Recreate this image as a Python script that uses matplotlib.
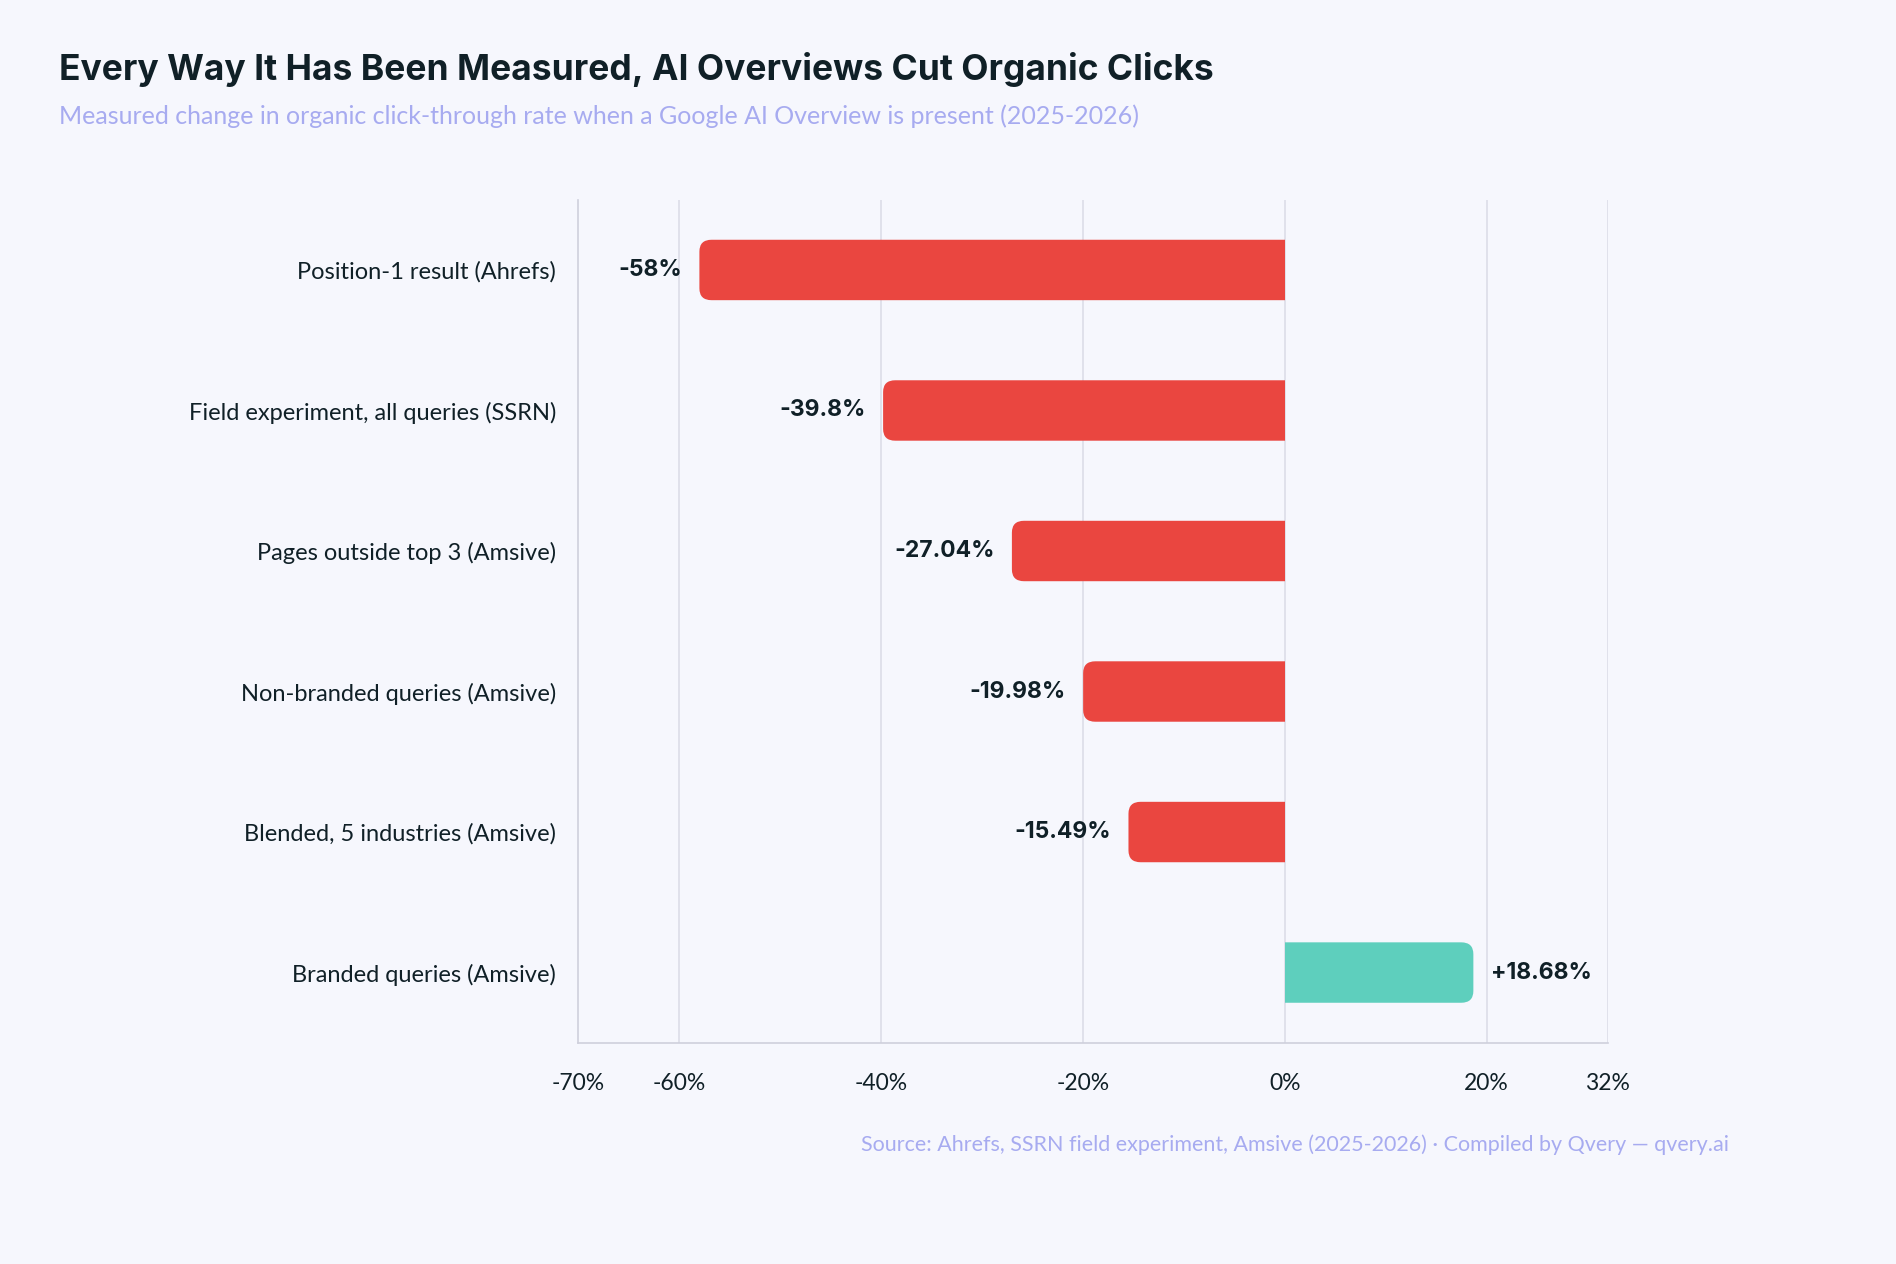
import matplotlib.pyplot as plt
from matplotlib.patches import FancyBboxPatch, Rectangle

categories = ["Position-1 result (Ahrefs)", "Field experiment, all queries (SSRN)",
              "Pages outside top 3 (Amsive)", "Non-branded queries (Amsive)",
              "Blended, 5 industries (Amsive)", "Branded queries (Amsive)"]
values = [-58, -39.8, -27.04, -19.98, -15.49, 18.68]
value_labels = ["-58%", "-39.8%", "-27.04%", "-19.98%", "-15.49%", "+18.68%"]
ticks = [-70, -60, -40, -20, 0, 20, 32]
tick_labels = ["-70%", "-60%", "-40%", "-20%", "0%", "20%", "32%"]

bg = "#f6f7fd"
red = "#ea4640"
teal = "#5ecfbd"

fig = plt.figure(figsize=(18.96, 12.64), dpi=100, facecolor=bg)
ax = fig.add_axes([0.305, 0.175, 0.543, 0.667], facecolor=bg)

h = 0.43
ext = 4  # rounded box runs past zero, then clipped so only the far end is rounded
for i, (v, lab) in enumerate(zip(values, value_labels)):
    y = 5 - i
    c = red if v < 0 else teal
    if v < 0:
        box = FancyBboxPatch((v, y - h / 2), -v + ext, h,
                             boxstyle="round,pad=0,rounding_size=1.2",
                             mutation_aspect=0.07, fc=c, ec="none", lw=0, zorder=3)
        clip = Rectangle((v - 1, y - 1), -v + 1, 2, transform=ax.transData)
    else:
        box = FancyBboxPatch((-ext, y - h / 2), v + ext, h,
                             boxstyle="round,pad=0,rounding_size=1.2",
                             mutation_aspect=0.07, fc=c, ec="none", lw=0, zorder=3)
        clip = Rectangle((0, y - 1), v + 1, 2, transform=ax.transData)
    ax.add_patch(box)
    box.set_clip_path(clip)
    if v < 0:
        ax.text(v - 1.7, y, lab, ha="right", va="center", fontsize=16.5,
                fontweight="bold", family="Inter", color="#102027")
    else:
        ax.text(v + 1.7, y, lab, ha="left", va="center", fontsize=16.5,
                fontweight="bold", family="Inter", color="#102027")

ax.set_xlim(-70, 32)
ax.set_ylim(-0.5, 5.5)
ax.set_xticks(ticks)
ax.set_xticklabels(tick_labels, family="Lato", fontsize=16.5, color="#102027")
ax.set_yticks(range(5, -1, -1))
ax.set_yticklabels(categories, family="Lato", fontsize=17, color="#102027")
ax.tick_params(axis="y", length=0, pad=16)
ax.tick_params(axis="x", length=0, pad=22)
for t in [-60, -40, -20, 0, 20, 32]:
    ax.axvline(t, color="#dcdde8", lw=1.2, zorder=1)
for s in ["top", "right"]:
    ax.spines[s].set_visible(False)
for s in ["left", "bottom"]:
    ax.spines[s].set_color("#cfd0dc")
    ax.spines[s].set_linewidth(1.2)

fig.text(0.031, 0.945, "Every Way It Has Been Measured, AI Overviews Cut Organic Clicks",
         family="Inter", fontweight="bold", fontsize=25.5, color="#102027", va="center")
fig.text(0.031, 0.908, "Measured change in organic click-through rate when a Google AI Overview is present (2025-2026)",
         family="Lato", fontsize=18, color="#a7abf0", va="center")
fig.text(0.912, 0.094, "Source: Ahrefs, SSRN field experiment, Amsive (2025-2026) · Compiled by Qvery — qvery.ai",
         family="Lato", fontsize=15.5, color="#a7abf0", ha="right", va="center")

fig.savefig("out.png", dpi=100, facecolor=bg)
